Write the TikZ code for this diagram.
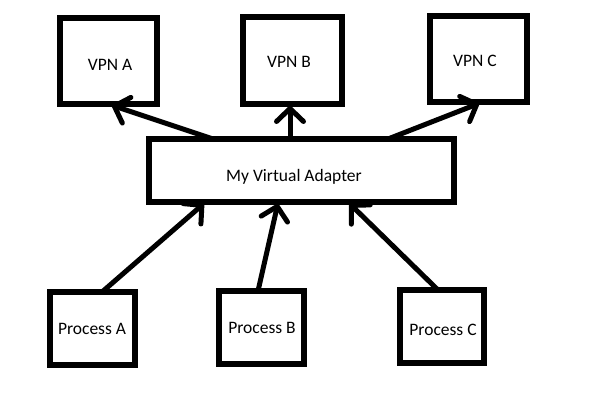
\documentclass[tikz,border=0pt]{standalone}
\usepackage{fontspec}
\setmainfont{Carlito}
\usetikzlibrary{arrows.meta,calc}
\begin{document}
\begin{tikzpicture}[x=1pt,y=-1pt,
  box/.style={draw,line width=5.5pt,inner sep=0pt,outer sep=0pt},
  lbl/.style={anchor=base,inner sep=0pt,font=\fontsize{17.5pt}{21pt}\selectfont},
  arr/.style={line width=5pt,-{Straight Barb[length=13pt,width=27pt,line cap=round]}}]
\useasboundingbox[fill=white] (0,0) rectangle (601,416);
% boxes
\node[box,minimum width=97pt,minimum height=86pt] (vA) at (108.5,61) {};
\node[box,minimum width=99pt,minimum height=87pt] (vB) at (292.5,60.5) {};
\node[box,minimum width=97pt,minimum height=86pt] (vC) at (478.5,59) {};
\node[box,minimum width=305pt,minimum height=63pt] (ad) at (301.5,170.5) {};
\node[box,minimum width=85pt,minimum height=73pt] (pA) at (92.5,328.5) {};
\node[box,minimum width=85pt,minimum height=73pt] (pB) at (261.5,327.5) {};
\node[box,minimum width=84pt,minimum height=73pt] (pC) at (442,326.5) {};
% texts
\node[lbl] (tvA) at (110,70) {VPN A};
\node[lbl] (tvB) at (289,67) {VPN B};
\node[lbl] (tvC) at (475,66) {VPN C};
\node[lbl] (tad) at (294,181.5) {My Virtual Adapter};
\node[lbl] (tpA) at (92,334) {Process A};
\node[lbl] (tpB) at (262,333) {Process B};
\node[lbl] (tpC) at (443,335) {Process C};
% connectors
\draw[arr] ($(pA.north)+(9.5,0)$) -- ($(ad.south)+(-97,1)$);
\draw[arr] ($(pB.north)+(-3.5,0)$) -- ($(ad.south)+(-23.5,1)$);
\draw[arr] ($(pC.north)+(-4,0)$) -- ($(ad.south)+(47.5,1)$);
\draw[arr] ($(ad.north)+(-88.5,0)$) -- ($(vA.south)+(2.5,1)$);
\draw[arr] ($(ad.north)+(-11.5,0)$) -- ($(vB.south)+(-2.5,1)$);
\draw[arr] ($(ad.north)+(86.5,0)$) -- ($(vC.south)+(1.5,1)$);
\end{tikzpicture}
\end{document}
